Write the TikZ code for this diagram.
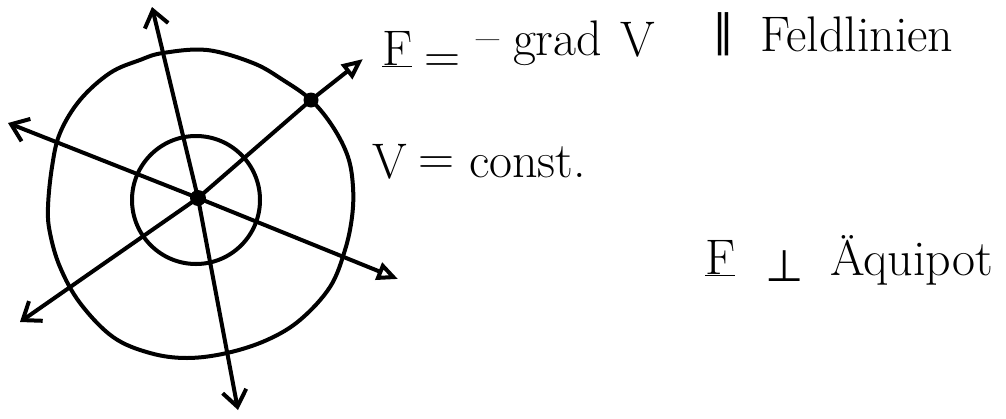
\documentclass[tikz,border=0pt]{standalone}
\usepackage{fontspec}
\newfontfamily\symfont{DejaVu Sans}
\usetikzlibrary{arrows.meta}
\begin{document}
\begin{tikzpicture}[x=1pt,y=-1pt,line width=4pt,line cap=round,line join=round,
  vtip/.style={-{Straight Barb[length=16pt,width=24pt]}},
  ttip/.style={-{Triangle[open,length=21pt,width=18pt]}},
  lbl/.style={inner sep=0pt,anchor=base west,font=\fontsize{50}{60}\selectfont},
  clbl/.style={inner sep=0pt,anchor=center,font=\fontsize{50}{60}\selectfont}]
\useasboundingbox (0,0) rectangle (1006,418);
\clip (0,0) rectangle (1006,418);
% field centre and line ends
\coordinate (c) at (198,198);
\coordinate (tN) at (152,7);
\coordinate (tS) at (238,410);
\coordinate (tW) at (8,123);
\coordinate (tE) at (398,279);
\coordinate (tSW) at (20,322);
\coordinate (tNE) at (363,59);
\coordinate (p) at (311,100);
% equipotential lines
\draw (196,200) circle (64pt);
\draw plot[smooth cycle,tension=0.6] coordinates {
 (163,53) (207,50) (253,63) (283,80) (311,100) (333,127) (348,157) (353,187)
 (352,217) (345,250) (330,287) (300,320) (267,340) (227,353) (187,358)
 (150,353) (113,337) (80,303) (60,267) (50,233) (48,207) (52,167) (60,133)
 (80,100) (110,73) (140,60)};
% field lines
\draw[vtip] (c) -- (tN);
\draw[vtip] (c) -- (tS);
\draw[vtip] (c) -- (tW);
\draw[vtip] (c) -- (tSW);
\draw[ttip] (c) -- (tE);
\draw[ttip] (c) -- (p) -- (tNE);
\fill (c) circle (8pt);
\fill (p) circle (7.5pt);
% labels
\node[lbl] (F1) at (380,65) {\underline{F}};
\node[clbl] (eq1) at (442,64) {=};
\node[clbl] (mn) at (488,47) {–};
\node[lbl] (grad) at (511,55) {grad};
\node[lbl] (V1) at (618,56) {V};
\node[clbl,font=\symfont\fontsize{44}{50}\selectfont] (par) at (723,34) {∥};
\node[lbl] (feld) at (758,51) {Feldlinien};
\node[lbl] (V2) at (370,178) {V};
\node[clbl] (eq2) at (436,166) {=};
\node[lbl] (const) at (467,177) {const.};
\node[lbl] (F2) at (703,274) {\underline{F}};
\node[lbl,font=\symfont\fontsize{44}{50}\selectfont] (perp) at (763,281) {⊥};
\node[lbl] (aequi) at (828,275) {Äquipot};
\end{tikzpicture}
\end{document}
